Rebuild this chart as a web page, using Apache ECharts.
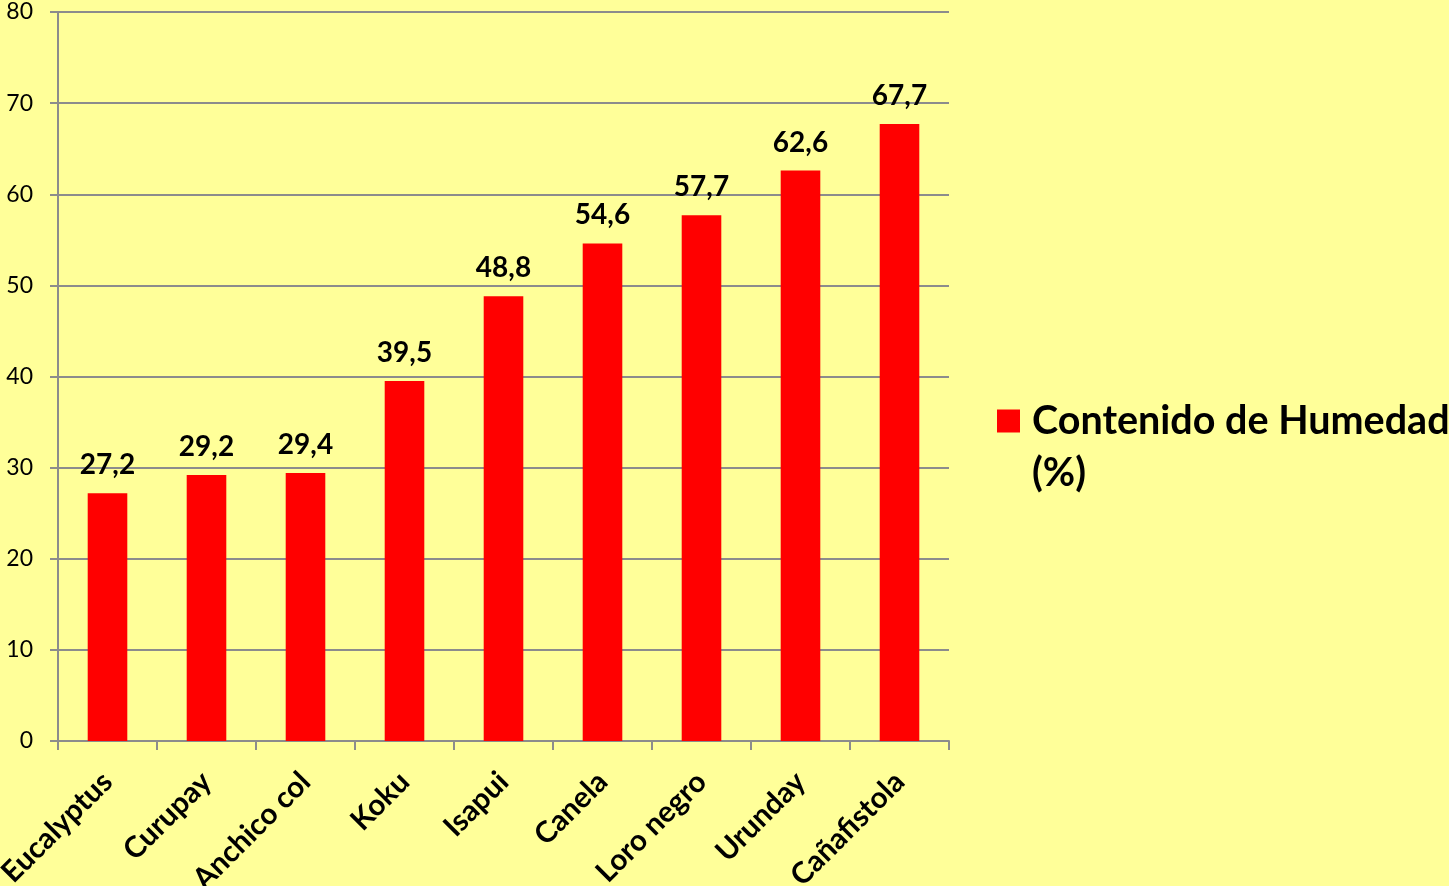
<!DOCTYPE html>
<html>
<head>
<meta charset="utf-8">
<script src="https://cdn.jsdelivr.net/npm/echarts@6/dist/echarts.min.js"></script>
<style>
  html, body { margin: 0; padding: 0; background: #FFFF99; }
  #chart { width: 1449px; height: 886px; }
</style>
</head>
<body>
<div id="chart"></div>
<script>
// Wood species and their moisture content (%)
const categories = ['Eucalyptus', 'Curupay', 'Anchico col', 'Koku', 'Isapui', 'Canela', 'Loro negro', 'Urunday', 'Cañafistola'];
const humedad = [27.2, 29.2, 29.4, 39.5, 48.8, 54.6, 57.7, 62.6, 67.7];
const seriesName = 'Contenido de Humedad\n(%)';

const FONT = 'Lato, "Open Sans", sans-serif';

const chart = echarts.init(document.getElementById('chart'), null, { renderer: 'canvas' });
chart.setOption({
  backgroundColor: '#FFFF99',
  animation: false,
  grid: { left: 58, right: 500, top: 12, bottom: 145, containLabel: false, outerBoundsMode: 'none' },
  legend: {
    data: [seriesName],
    left: 997,
    top: 343,
    padding: 0,
    icon: 'rect',
    itemWidth: 23,
    itemHeight: 23,
    // an empty leading line keeps the marker level with the first text line;
    // the {s|} spacer widens the gap between marker and text
    formatter: name => ' \n' + name.split('\n').map(l => '{s|}' + l).join('\n'),
    textStyle: {
      fontFamily: FONT, fontSize: 39.5, fontWeight: 'bold', color: '#000',
      lineHeight: 52,
      rich: { s: { width: 7, lineHeight: 52 } }
    }
  },
  xAxis: {
    type: 'category',
    data: categories,
    boundaryGap: true,
    axisLine: { lineStyle: { color: '#8C8C8C', width: 2 } },
    axisTick: { show: true, length: 9, lineStyle: { color: '#8C8C8C', width: 2 } },
    axisLabel: {
      rotate: 45,
      interval: 0,
      margin: 36,
      fontFamily: FONT,
      fontSize: 29.5,
      fontWeight: 'bold',
      color: '#000'
    }
  },
  yAxis: {
    type: 'value',
    min: 0,
    max: 80,
    interval: 10,
    axisLine: { show: true, lineStyle: { color: '#8C8C8C', width: 2 } },
    axisTick: { show: true, length: 8, lineStyle: { color: '#8C8C8C', width: 2 } },
    splitLine: { show: true, lineStyle: { color: '#8C8C8C', width: 2 } },
    axisLabel: { fontFamily: FONT, fontSize: 23, color: '#000', margin: 25 }
  },
  series: [{
    name: seriesName,
    type: 'bar',
    data: humedad,
    barWidth: '40%',
    itemStyle: { color: '#FF0000' },
    label: {
      show: true,
      position: 'top',
      distance: 14,
      fontFamily: FONT,
      fontSize: 28,
      fontWeight: 'bold',
      color: '#000',
      formatter: p => String(p.value).replace('.', ',')
    }
  }]
});
</script>
</body>
</html>
